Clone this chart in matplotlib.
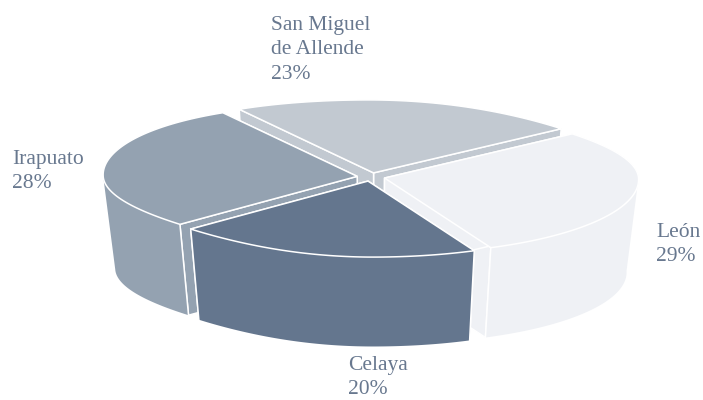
import numpy as np
import matplotlib
matplotlib.use('Agg')
import matplotlib.pyplot as plt

##############################
## Data ######################
##############################

names = ['San Miguel\nde Allende', 'Irapuato', 'Celaya', 'León']
shares = [23, 28, 20, 29]
colors = ['#c2c9d1', '#94a2b1', '#64768e', '#eff1f5']
label_xy = [(271, 16), (12, 150), (348, 356), (656, 223)]

# back to front
draw_order = [0, 1, 3, 2]

##############################
## Figure setup ##############
##############################

plt.rcParams['font.family'] = ['Liberation Serif', 'DejaVu Serif']

fig = plt.figure(figsize=(7.03, 4), dpi=100)
ax = fig.add_axes([0, 0, 1, 1])
ax.set_xlim(0, 703)
ax.set_ylim(400, 0)
ax.axis('off')

# pie geometry, in pixels
cx, cy = 371, 177
rx, ry = 254, 76
explode = 0.055
depth = 93
shrink = 0.955
skew = 5
start = 38.0


def rim(t, ox, oy):
    # the drawn rim is not a clean ellipse: tilted a little, and flatter at the back
    r = 1 - 0.05 * np.maximum(np.sin(2 * t), 0) ** 2
    f = 1 - 0.04 * np.maximum(np.sin(t), 0) ** 3
    x = ox + rx * r * np.cos(t) - skew * np.sin(t)
    return np.column_stack([x, oy - ry * r * f * np.sin(t)])


def bottom(p):
    # floor of the pie: a bit narrower because of the perspective
    x = cx + (p[:, 0] - cx) * shrink
    y = cy + (p[:, 1] - cy) * shrink + depth
    return np.column_stack([x, y])


def side(a):
    return np.vstack([a, bottom(a)[::-1]])


##############################
## Plot           ############
##############################

edges = start + 3.6 * np.cumsum([0] + shares)
z = 1

for i in draw_order:
    t0, t1 = edges[i], edges[i + 1]
    mid = np.radians((t0 + t1) / 2)
    ox = cx + explode * rx * np.cos(mid)
    oy = cy - explode * ry * np.sin(mid)
    arc = rim(np.radians(np.linspace(t0, t1, 120)), ox, oy)
    apex = np.array([[ox, oy]])
    c = colors[i]

    # cut faces
    for end in (arc[:1], arc[-1:]):
        ax.fill(*side(np.vstack([apex, end])).T, facecolor=c, edgecolor='white',
                lw=1.1, zorder=z)
        z += 1

    # outer wall, only the part that faces the viewer
    lo, hi = max(t0, 180), min(t1, 360)
    if lo < hi:
        front = rim(np.radians(np.linspace(lo, hi, 120)), ox, oy)
        ax.fill(*side(front).T, facecolor=c, edgecolor='none', zorder=z)
        z += 1
        if t0 >= 180:
            ax.plot(*side(front[:1]).T, color='white', lw=1.1, zorder=z)
        if t1 <= 360:
            ax.plot(*side(front[-1:]).T, color='white', lw=1.1, zorder=z)
        z += 1

    # top
    ax.fill(*np.vstack([apex, arc]).T, facecolor=c, edgecolor='white',
            lw=1.1, zorder=z)
    z += 1

    ax.text(*label_xy[i], '%s\n%d%%' % (names[i], shares[i]), color='#68788f',
            fontsize=15.5, ha='left', va='top', linespacing=1.38, zorder=100)

##############################
## Save to file ##############
##############################

fig.savefig('out.png', dpi=100, facecolor='white')
